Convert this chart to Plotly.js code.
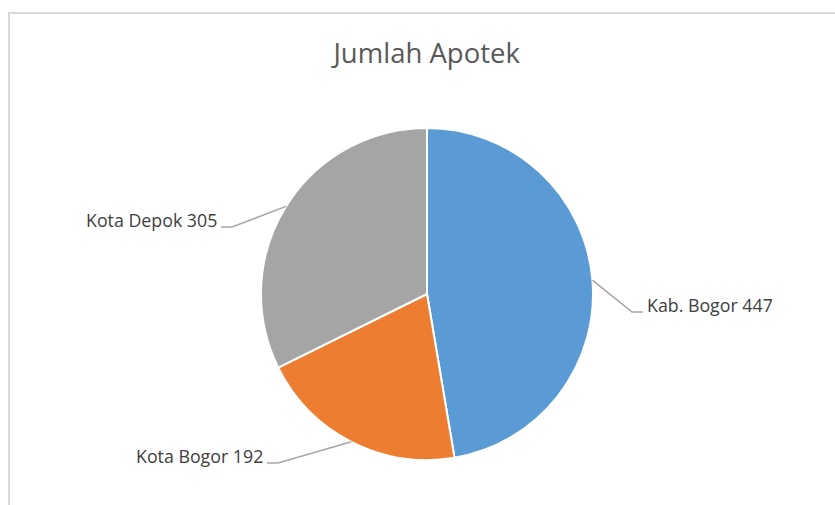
<!DOCTYPE html>
<html>
<head>
<meta charset="utf-8">
<script src="https://cdn.plot.ly/plotly-3.0.1.min.js"></script>
<style>html,body{margin:0;padding:0;background:#fff}#chart{width:835px;height:505px}</style>
</head>
<body>
<div id="chart"></div>
<script>
// ---- data ----
const categories = ['Kab. Bogor', 'Kota Bogor', 'Kota Depok'];
const values = [447, 192, 305];
const colors = ['#5B9BD5', '#ED7D31', '#A5A5A5'];
const chartTitle = 'Jumlah Apotek';

// ---- layout settings (pixels) ----
const W = 835, H = 505;
const cx = 427, cy = 294, R = 166;
// elbow point of each leader line and the side on which the label sits
const labelElbows = [
  {x: 632, y: 312, side: 'right'},
  {x: 278, y: 463, side: 'left'},
  {x: 232, y: 227, side: 'left'}
];
const tail = 11;

const px = x => x / W;
const py = y => 1 - y / H;

const total = values.reduce((a, b) => a + b, 0);
const shapes = [];
const annotations = [];

// chart border (Excel chart area)
shapes.push({type: 'rect', xref: 'paper', yref: 'paper',
  x0: px(9), x1: px(W + 20), y0: py(H + 20), y1: py(13),
  line: {color: '#D9D9D9', width: 2}, fillcolor: 'rgba(0,0,0,0)', layer: 'below'});

let cum = 0;
values.forEach((v, i) => {
  const mid = (cum + v / 2) / total * 2 * Math.PI;
  cum += v;
  const ex = cx + R * Math.sin(mid);
  const ey = cy - R * Math.cos(mid);
  const el = labelElbows[i];
  const endX = el.side === 'right' ? el.x + tail : el.x - tail;
  const path = `M ${px(ex)} ${py(ey)} L ${px(el.x)} ${py(el.y)} L ${px(endX)} ${py(el.y)}`;
  shapes.push({type: 'path', xref: 'paper', yref: 'paper', path: path,
    line: {color: '#A6A6A6', width: 1.5}});
  annotations.push({
    xref: 'paper', yref: 'paper',
    x: px(el.side === 'right' ? endX + 2 : endX - 2),
    y: py(el.y - 7),
    xanchor: el.side === 'right' ? 'left' : 'right',
    yanchor: 'middle',
    text: categories[i] + ' ' + values[i],
    showarrow: false,
    font: {family: 'Open Sans, sans-serif', size: 17.8, color: '#404040'}
  });
});

const trace = {
  type: 'pie',
  labels: categories,
  values: values,
  sort: false,
  direction: 'clockwise',
  rotation: 0,
  marker: {colors: colors, line: {color: '#FFFFFF', width: 2}},
  textinfo: 'none',
  hoverinfo: 'label+value+percent',
  showlegend: false,
  domain: {x: [px(cx - R), px(cx + R)], y: [py(cy + R), py(cy - R)]}
};

const layout = {
  width: W, height: H,
  margin: {l: 0, r: 0, t: 0, b: 0},
  paper_bgcolor: '#FFFFFF',
  title: {text: chartTitle, x: 0.511, xanchor: 'center', y: 1 - 53 / H, yanchor: 'middle',
    font: {family: 'Open Sans, sans-serif', size: 27.5, color: '#595959'}},
  shapes: shapes,
  annotations: annotations
};

Plotly.newPlot('chart', [trace], layout, {displayModeBar: false, staticPlot: true});
</script>
</body>
</html>
